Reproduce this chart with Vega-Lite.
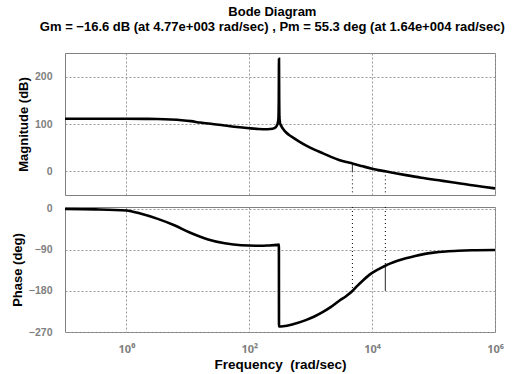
{
  "$schema": "https://vega.github.io/schema/vega-lite/v6.json",
  "padding": {"left": 10, "top": 6, "right": 0, "bottom": 1},
  "title": {
    "text": "Bode Diagram",
    "subtitle": "Gm = −16.6 dB (at 4.77e+003 rad/sec) ,  Pm = 55.3 deg (at 1.64e+004 rad/sec)",
    "font": "Liberation Sans", "fontSize": 13, "fontWeight": "bold", "color": "black",
    "subtitleFont": "Liberation Sans", "subtitleFontSize": 13, "subtitleFontWeight": "bold", "subtitleColor": "black",
    "subtitlePadding": 1.5,
    "anchor": "middle", "offset": 19, "dx": 15
  },
  "config": {
    "font": "Liberation Sans",
    "view": {"stroke": "#808080", "strokeWidth": 1},
    "axis": {
      "labelFont": "Liberation Sans", "labelFontSize": 10.5, "labelFontWeight": "bold", "labelColor": "#808080",
      "titleFont": "Liberation Sans", "titleFontSize": 13, "titleFontWeight": "bold", "titleColor": "black",
      "ticks": false, "domain": false, "grid": true,
      "gridColor": "#999999", "gridDash": [2, 2], "gridWidth": 1, "gridOpacity": 1
    },
    "concat": {"spacing": 7}
  },
  "datasets": {
    "mag": [
      {"f": 0.1, "mag": 111}, {"f": 0.3162, "mag": 111}, {"f": 1, "mag": 111}, {"f": 1.995, "mag": 110.8},
      {"f": 3.162, "mag": 110.5}, {"f": 5.248, "mag": 109.5}, {"f": 7.943, "mag": 108}, {"f": 11.22, "mag": 106},
      {"f": 15.85, "mag": 103}, {"f": 25.12, "mag": 100}, {"f": 39.81, "mag": 97}, {"f": 63.1, "mag": 93.5},
      {"f": 100, "mag": 91}, {"f": 141.3, "mag": 89.5}, {"f": 199.5, "mag": 89}, {"f": 239.9, "mag": 90},
      {"f": 269.2, "mag": 93}, {"f": 288.4, "mag": 100}, {"f": 298.5, "mag": 112}, {"f": 302.0, "mag": 150},
      {"f": 304.5, "mag": 238}, {"f": 306.9, "mag": 150}, {"f": 309.0, "mag": 115}, {"f": 316.2, "mag": 102},
      {"f": 331.1, "mag": 96}, {"f": 363.1, "mag": 88}, {"f": 398.1, "mag": 82}, {"f": 478.6, "mag": 74},
      {"f": 631, "mag": 64}, {"f": 831.8, "mag": 55}, {"f": 1148, "mag": 46}, {"f": 1585, "mag": 38},
      {"f": 2138, "mag": 30.5}, {"f": 2884, "mag": 24}, {"f": 3802, "mag": 19.5}, {"f": 4770, "mag": 16.6},
      {"f": 7079, "mag": 10.5}, {"f": 10000, "mag": 5.5}, {"f": 12589, "mag": 2.6}, {"f": 16400, "mag": 0},
      {"f": 25119, "mag": -4.5}, {"f": 35481, "mag": -8}, {"f": 63096, "mag": -13.5}, {"f": 123027, "mag": -19},
      {"f": 199526, "mag": -23}, {"f": 426580, "mag": -29.5}, {"f": 630957, "mag": -32.5}, {"f": 1000000, "mag": -36}
    ],
    "phase": [
      {"f": 0.1, "ph": -0.5}, {"f": 0.3162, "ph": -1.2}, {"f": 1, "ph": -3.5}, {"f": 1.738, "ph": -11},
      {"f": 3.236, "ph": -22}, {"f": 6.026, "ph": -36}, {"f": 11.22, "ph": -53}, {"f": 21.38, "ph": -67},
      {"f": 39.81, "ph": -75.5}, {"f": 74.13, "ph": -80}, {"f": 138.0, "ph": -81}, {"f": 199.5, "ph": -80.5},
      {"f": 288.4, "ph": -79}, {"f": 303.4, "ph": -78.5}, {"f": 304.5, "ph": -258}, {"f": 354.8, "ph": -257.5},
      {"f": 512.9, "ph": -253}, {"f": 831.8, "ph": -244}, {"f": 1148, "ph": -236}, {"f": 1585, "ph": -226},
      {"f": 2138, "ph": -215}, {"f": 2951, "ph": -201}, {"f": 3802, "ph": -191}, {"f": 4770, "ph": -180},
      {"f": 5623, "ph": -170}, {"f": 7079, "ph": -157}, {"f": 8511, "ph": -147.5}, {"f": 10000, "ph": -140.5},
      {"f": 12589, "ph": -132.5}, {"f": 16400, "ph": -124.7}, {"f": 19953, "ph": -119.6}, {"f": 25119, "ph": -114.5},
      {"f": 35481, "ph": -108.3}, {"f": 50119, "ph": -103.2}, {"f": 66069, "ph": -99.8}, {"f": 100000, "ph": -96},
      {"f": 158489, "ph": -93.4}, {"f": 251189, "ph": -91.9}, {"f": 426580, "ph": -90.9}, {"f": 1000000, "ph": -90.3}
    ],
    "mrules": [
      {"f": 4770, "y1": 16.6, "y2": 0, "style": "solid"},
      {"f": 4770, "y1": 0, "y2": -50, "style": "dotted"},
      {"f": 16400, "y1": 0, "y2": -50, "style": "dotted"}
    ],
    "prules": [
      {"f": 4770, "y1": 4, "y2": -180, "style": "dotted"},
      {"f": 16400, "y1": 4, "y2": -124.7, "style": "dotted"},
      {"f": 16400, "y1": -124.7, "y2": -180, "style": "solid"}
    ]
  },
  "vconcat": [
    {
      "width": 430, "height": 142,
      "layer": [
        {
          "data": {"name": "mag"},
          "mark": {"type": "line", "color": "black", "strokeWidth": 2.6, "interpolate": "monotone"},
          "encoding": {
            "x": {"field": "f", "type": "quantitative", "scale": {"type": "log", "domain": [0.1, 1000000]},
                  "axis": {"values": [1, 100, 10000, 1000000], "labels": false, "labelPadding": 0, "title": null}},
            "y": {"field": "mag", "type": "quantitative", "scale": {"domain": [-50, 250], "nice": false, "zero": false},
                  "axis": {"values": [0, 100, 200], "title": "Magnitude (dB)", "labelPadding": 13, "titlePadding": 4}}
          }
        },
        {
          "data": {"name": "mrules"},
          "mark": {"type": "rule", "color": "black", "strokeWidth": 1},
          "encoding": {
            "x": {"field": "f", "type": "quantitative"},
            "y": {"field": "y1", "type": "quantitative"},
            "y2": {"field": "y2"},
            "strokeDash": {"field": "style", "type": "nominal", "scale": {"domain": ["solid", "dotted"], "range": [[1, 0], [1, 3]]}, "legend": null}
          }
        }
      ]
    },
    {
      "width": 430, "height": 125,
      "layer": [
        {
          "data": {"name": "phase"},
          "mark": {"type": "line", "color": "black", "strokeWidth": 2.6, "interpolate": "monotone"},
          "encoding": {
            "x": {"field": "f", "type": "quantitative", "scale": {"type": "log", "domain": [0.1, 1000000]},
                  "axis": {"values": [1, 100, 10000, 1000000], "title": "Frequency\u00a0\u00a0(rad/sec)", "labelFlush": false, "labelOverlap": false,
                           "labelFont": "Noto Sans", "labelFontSize": 11,
                           "labelPadding": 11, "titlePadding": 3, "titleFontSize": 13.5,
                           "labelExpr": "datum.value == 1 ? '10⁰' : datum.value == 100 ? '10²' : datum.value == 10000 ? '10⁴' : '10⁶'"}},
            "y": {"field": "ph", "type": "quantitative", "scale": {"domain": [-270, 4], "nice": false, "zero": false},
                  "axis": {"values": [0, -90, -180, -270], "title": "Phase (deg)", "labelPadding": 13, "titlePadding": 4}}
          }
        },
        {
          "data": {"name": "prules"},
          "mark": {"type": "rule", "color": "black", "strokeWidth": 1},
          "encoding": {
            "x": {"field": "f", "type": "quantitative"},
            "y": {"field": "y1", "type": "quantitative"},
            "y2": {"field": "y2"},
            "strokeDash": {"field": "style", "type": "nominal", "scale": {"domain": ["solid", "dotted"], "range": [[1, 0], [1, 3]]}, "legend": null}
          }
        }
      ]
    }
  ]
}
